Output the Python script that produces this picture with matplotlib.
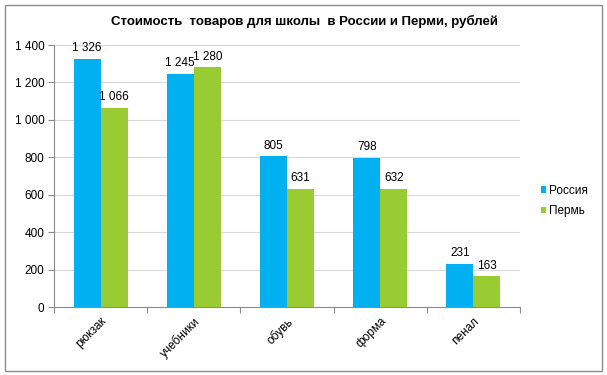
import numpy as np
import matplotlib.pyplot as plt
from matplotlib.patches import Rectangle

plt.rcParams['font.family'] = ['Liberation Sans', 'DejaVu Sans']

categories = ['рюкзак', 'учебники', 'обувь', 'форма', 'пенал']
russia = [1326, 1245, 805, 798, 231]
perm = [1066, 1280, 631, 632, 163]
series_names = ['Россия', 'Пермь']
colors = ['#00b0f0', '#99cc33']


def fmt(v):
    return f'{v:,}'.replace(',', ' ')


fig = plt.figure(figsize=(6.07, 3.75), dpi=100)
fig.patches.append(Rectangle((5 / 607, 4 / 375), 597 / 607, 366 / 375, transform=fig.transFigure,
                             fill=False, edgecolor='#8c8c8c', linewidth=1))
ax = fig.add_axes([54 / 607, 1 - 307 / 375, 466 / 607, 262 / 375])

x = np.arange(len(categories))
w = 0.29
b1 = ax.bar(x - w / 2, russia, w, color=colors[0], label=series_names[0], zorder=3)
b2 = ax.bar(x + w / 2, perm, w, color=colors[1], label=series_names[1], zorder=3)

for bars, vals in ((b1, russia), (b2, perm)):
    for r, v in zip(bars, vals):
        ax.text(r.get_x() + r.get_width() / 2, v + 25, fmt(v), ha='center', va='bottom',
                fontsize=8.5)

ax.set_xlim(-0.5, len(categories) - 0.5)
ax.set_ylim(0, 1400)
ax.set_yticks(range(0, 1401, 200))
ax.set_yticklabels([fmt(v) for v in range(0, 1401, 200)], fontsize=8.5)
ax.yaxis.grid(True, color='#d9d9d9', linewidth=0.8, zorder=0)
ax.set_xticks(np.arange(-0.5, len(categories)), minor=False)
ax.set_xticklabels([])
ax.set_xticks(x, minor=True)
ax.set_xticklabels(categories, minor=True, rotation=45, ha='right', rotation_mode='anchor',
                   fontsize=8.5)
ax.tick_params(axis='x', which='minor', length=0, pad=6)
ax.tick_params(axis='x', which='major', length=4, color='#8c8c8c', direction='out')
ax.tick_params(axis='y', length=4, color='#8c8c8c', direction='out', pad=3)
for s in ['top', 'right']:
    ax.spines[s].set_visible(False)
for s in ['left', 'bottom']:
    ax.spines[s].set_color('#8c8c8c')

fig.text(304 / 607, 1 - 21 / 375, 'Стоимость  товаров для школы  в России и Перми, рублей',
         ha='center', va='center', fontsize=9.5, fontweight='bold')

leg = fig.legend(handles=[b1, b2], labels=series_names, loc='center left',
                 bbox_to_anchor=(535 / 607, 1 - 201 / 375), frameon=False, fontsize=8.5,
                 handlelength=0.45, handleheight=0.45, handletextpad=0.25, labelspacing=0.75,
                 borderpad=0)

fig.savefig('out.png', dpi=100)
